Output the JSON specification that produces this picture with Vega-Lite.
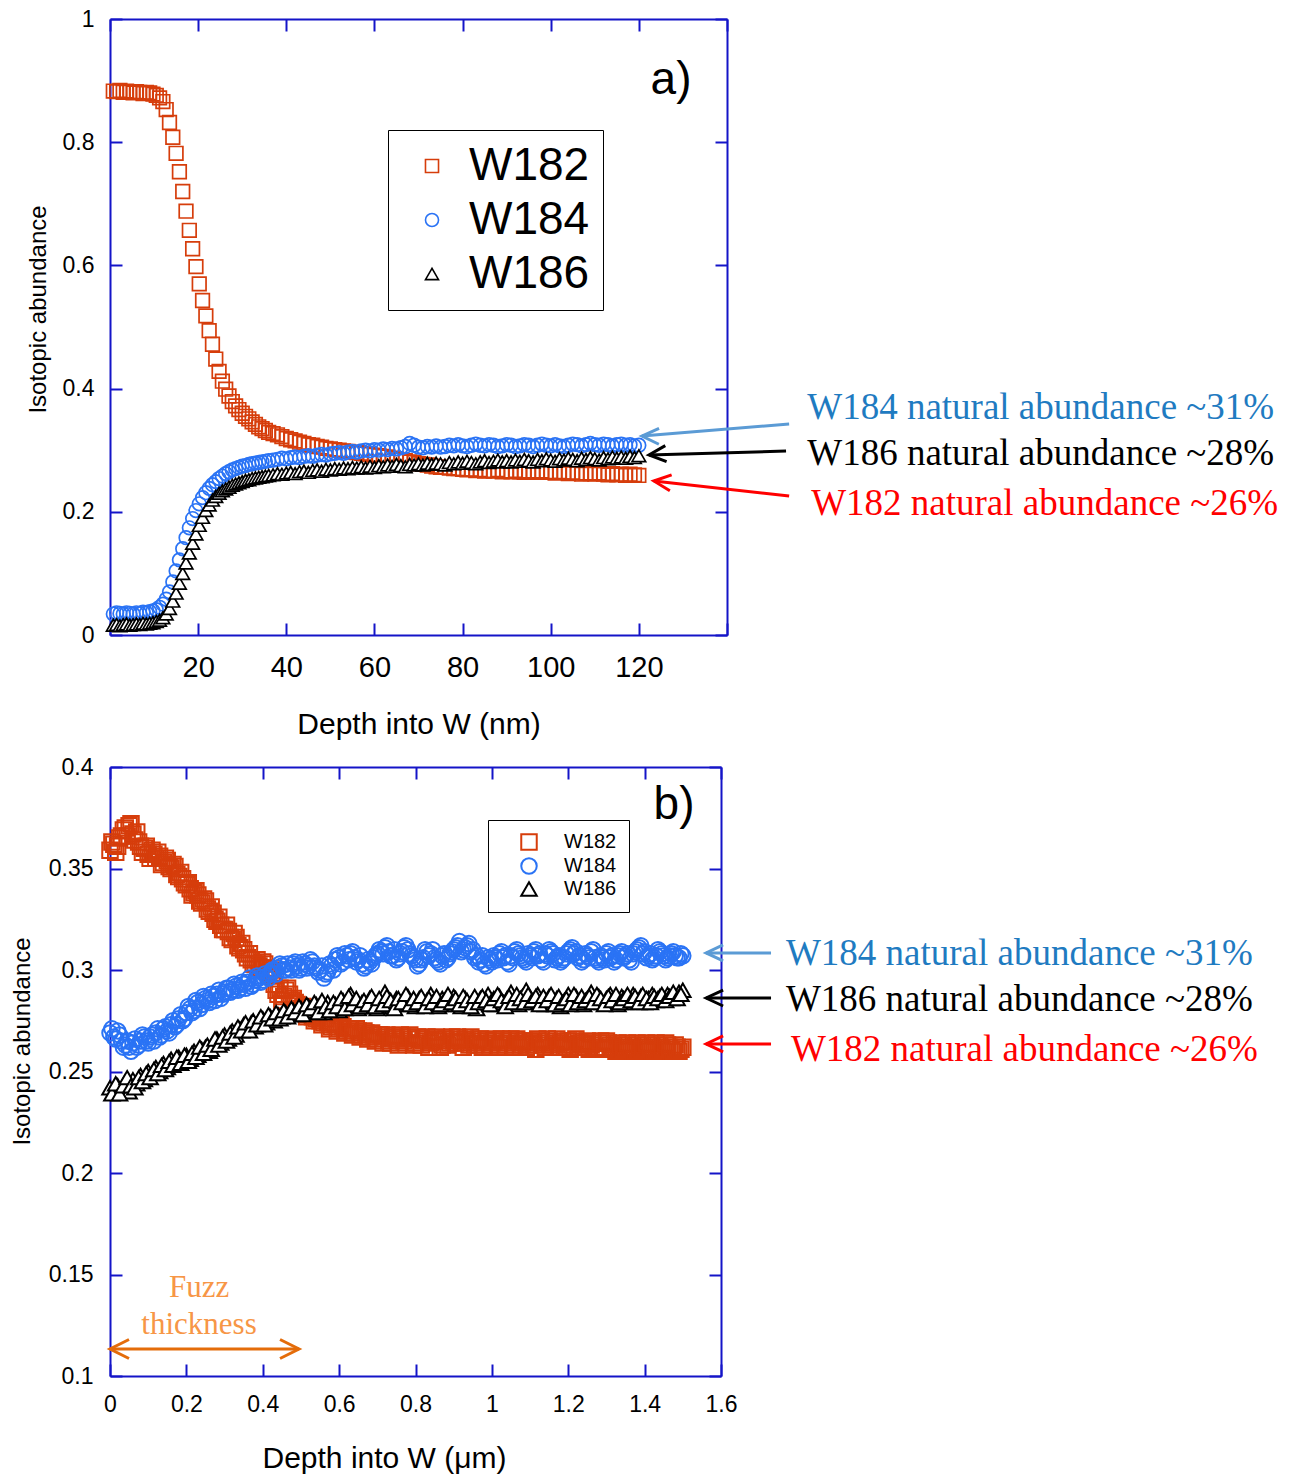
{
"$schema": "https://vega.github.io/schema/vega-lite/v6.json",
"background": "white",
"padding": {"left": 10, "top": 8, "right": 5, "bottom": 5},
"spacing": 17,
"config": {
  "view": {"stroke": null},
  "font": "Liberation Sans",
  "axis": {"domainColor": "#1414C8", "tickColor": "#1414C8", "domainWidth": 2, "tickWidth": 2, "tickSize": -12, "grid": false, "labelColor": "#000000", "titleColor": "#000000", "titleFontWeight": "normal", "labelFlush": false, "labelOverlap": false, "labelFont": "Liberation Sans", "titleFont": "Liberation Sans"}
},
"datasets": {
"a": [
{"d":0.75,"W182":0.883,"W184":0.034,"W186":0.016},
{"d":1.5,"W182":0.882,"W184":0.036,"W186":0.017},
{"d":2.25,"W182":0.884,"W184":0.035,"W186":0.015},
{"d":3,"W182":0.881,"W184":0.034,"W186":0.017},
{"d":3.75,"W182":0.883,"W184":0.036,"W186":0.018},
{"d":4.5,"W182":0.882,"W184":0.035,"W186":0.016},
{"d":5.25,"W182":0.880,"W184":0.034,"W186":0.017},
{"d":6,"W182":0.882,"W184":0.036,"W186":0.018},
{"d":6.75,"W182":0.881,"W184":0.035,"W186":0.017},
{"d":7.5,"W182":0.879,"W184":0.037,"W186":0.019},
{"d":8.25,"W182":0.881,"W184":0.036,"W186":0.018},
{"d":9,"W182":0.880,"W184":0.038,"W186":0.019},
{"d":9.75,"W182":0.878,"W184":0.039,"W186":0.020},
{"d":10.5,"W182":0.876,"W184":0.041,"W186":0.022},
{"d":11.25,"W182":0.872,"W184":0.045,"W186":0.024},
{"d":12,"W182":0.866,"W184":0.050,"W186":0.028},
{"d":12.75,"W182":0.853,"W184":0.058,"W186":0.034},
{"d":13.5,"W182":0.832,"W184":0.070,"W186":0.043},
{"d":14.25,"W182":0.808,"W184":0.086,"W186":0.055},
{"d":15,"W182":0.782,"W184":0.104,"W186":0.068},
{"d":15.75,"W182":0.752,"W184":0.122,"W186":0.084},
{"d":16.5,"W182":0.720,"W184":0.140,"W186":0.100},
{"d":17.25,"W182":0.688,"W184":0.158,"W186":0.117},
{"d":18,"W182":0.657,"W184":0.174,"W186":0.133},
{"d":18.75,"W182":0.627,"W184":0.189,"W186":0.149},
{"d":19.5,"W182":0.598,"W184":0.202,"W186":0.164},
{"d":20.25,"W182":0.570,"W184":0.213,"W186":0.178},
{"d":21,"W182":0.543,"W184":0.223,"W186":0.191},
{"d":21.75,"W182":0.518,"W184":0.231,"W186":0.202},
{"d":22.5,"W182":0.494,"W184":0.238,"W186":0.211},
{"d":23.25,"W182":0.472,"W184":0.244,"W186":0.219},
{"d":24,"W182":0.448,"W184":0.249,"W186":0.225},
{"d":24.75,"W182":0.428,"W184":0.254,"W186":0.230},
{"d":25.5,"W182":0.412,"W184":0.258,"W186":0.234},
{"d":26.25,"W182":0.399,"W184":0.262,"W186":0.237},
{"d":27,"W182":0.388,"W184":0.265,"W186":0.240},
{"d":27.75,"W182":0.379,"W184":0.268,"W186":0.243},
{"d":28.5,"W182":0.372,"W184":0.270,"W186":0.245},
{"d":29.25,"W182":0.366,"W184":0.272,"W186":0.247},
{"d":30,"W182":0.360,"W184":0.274,"W186":0.249},
{"d":30.75,"W182":0.355,"W184":0.275,"W186":0.251},
{"d":31.5,"W182":0.351,"W184":0.277,"W186":0.252},
{"d":32.25,"W182":0.346,"W184":0.278,"W186":0.254},
{"d":33,"W182":0.342,"W184":0.279,"W186":0.255},
{"d":33.75,"W182":0.338,"W184":0.280,"W186":0.256},
{"d":34.5,"W182":0.335,"W184":0.281,"W186":0.257},
{"d":35.25,"W182":0.332,"W184":0.282,"W186":0.258},
{"d":36,"W182":0.329,"W184":0.283,"W186":0.259},
{"d":37,"W182":0.327,"W184":0.284,"W186":0.260},
{"d":38,"W182":0.325,"W184":0.285,"W186":0.262},
{"d":39,"W182":0.322,"W184":0.287,"W186":0.261},
{"d":40,"W182":0.319,"W184":0.286,"W186":0.263},
{"d":41,"W182":0.317,"W184":0.288,"W186":0.264},
{"d":42,"W182":0.315,"W184":0.289,"W186":0.262},
{"d":43,"W182":0.313,"W184":0.288,"W186":0.265},
{"d":44,"W182":0.311,"W184":0.290,"W186":0.266},
{"d":45,"W182":0.309,"W184":0.291,"W186":0.264},
{"d":46,"W182":0.308,"W184":0.290,"W186":0.267},
{"d":47,"W182":0.306,"W184":0.292,"W186":0.268},
{"d":48,"W182":0.305,"W184":0.293,"W186":0.266},
{"d":49,"W182":0.303,"W184":0.292,"W186":0.269},
{"d":50,"W182":0.302,"W184":0.294,"W186":0.268},
{"d":51,"W182":0.301,"W184":0.295,"W186":0.270},
{"d":52,"W182":0.300,"W184":0.296,"W186":0.269},
{"d":53,"W182":0.299,"W184":0.295,"W186":0.271},
{"d":54,"W182":0.298,"W184":0.297,"W186":0.270},
{"d":55,"W182":0.297,"W184":0.298,"W186":0.272},
{"d":56,"W182":0.296,"W184":0.297,"W186":0.271},
{"d":57,"W182":0.295,"W184":0.299,"W186":0.273},
{"d":58,"W182":0.294,"W184":0.300,"W186":0.271},
{"d":59,"W182":0.293,"W184":0.299,"W186":0.274},
{"d":60,"W182":0.292,"W184":0.301,"W186":0.272},
{"d":61,"W182":0.291,"W184":0.300,"W186":0.275},
{"d":62,"W182":0.290,"W184":0.302,"W186":0.273},
{"d":63,"W182":0.289,"W184":0.301,"W186":0.276},
{"d":64,"W182":0.287,"W184":0.303,"W186":0.274},
{"d":65,"W182":0.286,"W184":0.302,"W186":0.277},
{"d":66,"W182":0.284,"W184":0.304,"W186":0.275},
{"d":67,"W182":0.283,"W184":0.306,"W186":0.273},
{"d":68,"W182":0.281,"W184":0.311,"W186":0.277},
{"d":69,"W182":0.280,"W184":0.308,"W186":0.276},
{"d":70,"W182":0.278,"W184":0.305,"W186":0.278},
{"d":71,"W182":0.277,"W184":0.304,"W186":0.276},
{"d":72,"W182":0.276,"W184":0.306,"W186":0.279},
{"d":73,"W182":0.274,"W184":0.305,"W186":0.277},
{"d":74,"W182":0.273,"W184":0.307,"W186":0.279},
{"d":75,"W182":0.272,"W184":0.305,"W186":0.278},
{"d":76,"W182":0.272,"W184":0.306,"W186":0.276},
{"d":77,"W182":0.271,"W184":0.308,"W186":0.280},
{"d":78,"W182":0.270,"W184":0.307,"W186":0.278},
{"d":79,"W182":0.270,"W184":0.309,"W186":0.281},
{"d":80,"W182":0.269,"W184":0.307,"W186":0.279},
{"d":81,"W182":0.268,"W184":0.306,"W186":0.282},
{"d":82,"W182":0.269,"W184":0.308,"W186":0.280},
{"d":83,"W182":0.267,"W184":0.310,"W186":0.278},
{"d":84,"W182":0.268,"W184":0.308,"W186":0.281},
{"d":85,"W182":0.266,"W184":0.307,"W186":0.283},
{"d":86,"W182":0.267,"W184":0.309,"W186":0.280},
{"d":87,"W182":0.266,"W184":0.308,"W186":0.282},
{"d":88,"W182":0.268,"W184":0.306,"W186":0.284},
{"d":89,"W182":0.265,"W184":0.307,"W186":0.281},
{"d":90,"W182":0.266,"W184":0.309,"W186":0.283},
{"d":91,"W182":0.265,"W184":0.308,"W186":0.281},
{"d":92,"W182":0.267,"W184":0.306,"W186":0.284},
{"d":93,"W182":0.265,"W184":0.307,"W186":0.282},
{"d":94,"W182":0.264,"W184":0.309,"W186":0.285},
{"d":95,"W182":0.266,"W184":0.308,"W186":0.283},
{"d":96,"W182":0.265,"W184":0.306,"W186":0.281},
{"d":97,"W182":0.264,"W184":0.308,"W186":0.285},
{"d":98,"W182":0.266,"W184":0.310,"W186":0.283},
{"d":99,"W182":0.264,"W184":0.308,"W186":0.286},
{"d":100,"W182":0.265,"W184":0.307,"W186":0.284},
{"d":101,"W182":0.263,"W184":0.309,"W186":0.282},
{"d":102,"W182":0.265,"W184":0.307,"W186":0.286},
{"d":103,"W182":0.264,"W184":0.306,"W186":0.284},
{"d":104,"W182":0.262,"W184":0.308,"W186":0.287},
{"d":105,"W182":0.264,"W184":0.310,"W186":0.285},
{"d":106,"W182":0.263,"W184":0.309,"W186":0.283},
{"d":107,"W182":0.261,"W184":0.307,"W186":0.287},
{"d":108,"W182":0.263,"W184":0.309,"W186":0.285},
{"d":109,"W182":0.262,"W184":0.311,"W186":0.288},
{"d":110,"W182":0.261,"W184":0.309,"W186":0.286},
{"d":111,"W182":0.263,"W184":0.308,"W186":0.284},
{"d":112,"W182":0.261,"W184":0.310,"W186":0.288},
{"d":113,"W182":0.260,"W184":0.309,"W186":0.286},
{"d":114,"W182":0.262,"W184":0.307,"W186":0.289},
{"d":115,"W182":0.260,"W184":0.309,"W186":0.287},
{"d":116,"W182":0.261,"W184":0.310,"W186":0.289},
{"d":117,"W182":0.259,"W184":0.308,"W186":0.287},
{"d":118,"W182":0.261,"W184":0.309,"W186":0.290},
{"d":119,"W182":0.260,"W184":0.307,"W186":0.288},
{"d":120,"W182":0.259,"W184":0.308,"W186":0.291}
],
"b": [
{"d":0.00,"W182":0.359,"W184":0.269,"W186":0.242},
{"d":0.01,"W182":0.362,"W184":0.267,"W186":0.240},
{"d":0.02,"W182":0.361,"W184":0.270,"W186":0.243},
{"d":0.03,"W182":0.366,"W184":0.265,"W186":0.241},
{"d":0.04,"W182":0.370,"W184":0.263,"W186":0.245},
{"d":0.05,"W182":0.371,"W184":0.262,"W186":0.240},
{"d":0.06,"W182":0.367,"W184":0.264,"W186":0.246},
{"d":0.07,"W182":0.368,"W184":0.262,"W186":0.244},
{"d":0.08,"W182":0.361,"W184":0.265,"W186":0.248},
{"d":0.09,"W182":0.360,"W184":0.267,"W186":0.246},
{"d":0.10,"W182":0.357,"W184":0.264,"W186":0.250},
{"d":0.11,"W182":0.359,"W184":0.268,"W186":0.249},
{"d":0.12,"W182":0.355,"W184":0.269,"W186":0.252},
{"d":0.13,"W182":0.356,"W184":0.267,"W186":0.250},
{"d":0.14,"W182":0.353,"W184":0.271,"W186":0.254},
{"d":0.15,"W182":0.354,"W184":0.270,"W186":0.252},
{"d":0.16,"W182":0.350,"W184":0.273,"W186":0.256},
{"d":0.17,"W182":0.351,"W184":0.272,"W186":0.254},
{"d":0.18,"W182":0.346,"W184":0.276,"W186":0.257},
{"d":0.19,"W182":0.345,"W184":0.275,"W186":0.255},
{"d":0.20,"W182":0.342,"W184":0.279,"W186":0.258},
{"d":0.21,"W182":0.340,"W184":0.281,"W186":0.256},
{"d":0.22,"W182":0.338,"W184":0.280,"W186":0.260},
{"d":0.23,"W182":0.337,"W184":0.284,"W186":0.258},
{"d":0.24,"W182":0.333,"W184":0.283,"W186":0.261},
{"d":0.25,"W182":0.334,"W184":0.286,"W186":0.262},
{"d":0.26,"W182":0.329,"W184":0.284,"W186":0.260},
{"d":0.27,"W182":0.328,"W184":0.287,"W186":0.264},
{"d":0.28,"W182":0.324,"W184":0.288,"W186":0.266},
{"d":0.29,"W182":0.322,"W184":0.286,"W186":0.264},
{"d":0.30,"W182":0.320,"W184":0.289,"W186":0.268},
{"d":0.31,"W182":0.319,"W184":0.291,"W186":0.266},
{"d":0.32,"W182":0.315,"W184":0.290,"W186":0.270},
{"d":0.33,"W182":0.316,"W184":0.292,"W186":0.268},
{"d":0.34,"W182":0.311,"W184":0.291,"W186":0.271},
{"d":0.35,"W182":0.310,"W184":0.293,"W186":0.273},
{"d":0.36,"W182":0.306,"W184":0.294,"W186":0.271},
{"d":0.37,"W182":0.305,"W184":0.292,"W186":0.274},
{"d":0.38,"W182":0.303,"W184":0.295,"W186":0.272},
{"d":0.39,"W182":0.302,"W184":0.296,"W186":0.275},
{"d":0.40,"W182":0.304,"W184":0.295,"W186":0.276},
{"d":0.41,"W182":0.301,"W184":0.297,"W186":0.274},
{"d":0.42,"W182":0.300,"W184":0.298,"W186":0.277},
{"d":0.43,"W182":0.293,"W184":0.300,"W186":0.275},
{"d":0.44,"W182":0.288,"W184":0.301,"W186":0.278},
{"d":0.45,"W182":0.285,"W184":0.302,"W186":0.277},
{"d":0.46,"W182":0.290,"W184":0.300,"W186":0.279},
{"d":0.47,"W182":0.288,"W184":0.301,"W186":0.278},
{"d":0.48,"W182":0.286,"W184":0.303,"W186":0.280},
{"d":0.49,"W182":0.283,"W184":0.302,"W186":0.278},
{"d":0.50,"W182":0.281,"W184":0.301,"W186":0.281},
{"d":0.51,"W182":0.279,"W184":0.303,"W186":0.279},
{"d":0.52,"W182":0.278,"W184":0.302,"W186":0.282},
{"d":0.53,"W182":0.277,"W184":0.304,"W186":0.280},
{"d":0.54,"W182":0.276,"W184":0.301,"W186":0.283},
{"d":0.55,"W182":0.275,"W184":0.300,"W186":0.281},
{"d":0.56,"W182":0.274,"W184":0.296,"W186":0.279},
{"d":0.57,"W182":0.274,"W184":0.299,"W186":0.284},
{"d":0.58,"W182":0.272,"W184":0.302,"W186":0.281},
{"d":0.59,"W182":0.273,"W184":0.305,"W186":0.283},
{"d":0.60,"W182":0.271,"W184":0.306,"W186":0.280},
{"d":0.61,"W182":0.272,"W184":0.304,"W186":0.285},
{"d":0.62,"W182":0.270,"W184":0.307,"W186":0.282},
{"d":0.63,"W182":0.271,"W184":0.308,"W186":0.288},
{"d":0.64,"W182":0.269,"W184":0.306,"W186":0.283},
{"d":0.65,"W182":0.270,"W184":0.305,"W186":0.281},
{"d":0.66,"W182":0.268,"W184":0.303,"W186":0.284},
{"d":0.67,"W182":0.269,"W184":0.302,"W186":0.282},
{"d":0.68,"W182":0.267,"W184":0.304,"W186":0.286},
{"d":0.69,"W182":0.268,"W184":0.306,"W186":0.283},
{"d":0.70,"W182":0.266,"W184":0.308,"W186":0.281},
{"d":0.71,"W182":0.268,"W184":0.309,"W186":0.285},
{"d":0.72,"W182":0.267,"W184":0.311,"W186":0.289},
{"d":0.73,"W182":0.265,"W184":0.309,"W186":0.284},
{"d":0.74,"W182":0.267,"W184":0.307,"W186":0.282},
{"d":0.75,"W182":0.266,"W184":0.305,"W186":0.286},
{"d":0.76,"W182":0.268,"W184":0.308,"W186":0.283},
{"d":0.77,"W182":0.265,"W184":0.311,"W186":0.285},
{"d":0.78,"W182":0.267,"W184":0.310,"W186":0.287},
{"d":0.79,"W182":0.266,"W184":0.307,"W186":0.284},
{"d":0.80,"W182":0.264,"W184":0.305,"W186":0.282},
{"d":0.81,"W182":0.266,"W184":0.303,"W186":0.286},
{"d":0.82,"W182":0.265,"W184":0.306,"W186":0.283},
{"d":0.83,"W182":0.267,"W184":0.309,"W186":0.285},
{"d":0.84,"W182":0.264,"W184":0.308,"W186":0.288},
{"d":0.85,"W182":0.266,"W184":0.306,"W186":0.284},
{"d":0.86,"W182":0.265,"W184":0.304,"W186":0.282},
{"d":0.87,"W182":0.263,"W184":0.307,"W186":0.286},
{"d":0.88,"W182":0.266,"W184":0.305,"W186":0.283},
{"d":0.89,"W182":0.264,"W184":0.308,"W186":0.285},
{"d":0.90,"W182":0.265,"W184":0.310,"W186":0.287},
{"d":0.91,"W182":0.267,"W184":0.312,"W186":0.284},
{"d":0.92,"W182":0.264,"W184":0.309,"W186":0.282},
{"d":0.93,"W182":0.266,"W184":0.311,"W186":0.286},
{"d":0.94,"W182":0.263,"W184":0.313,"W186":0.283},
{"d":0.95,"W182":0.265,"W184":0.310,"W186":0.285},
{"d":0.96,"W182":0.264,"W184":0.307,"W186":0.281},
{"d":0.97,"W182":0.266,"W184":0.305,"W186":0.286},
{"d":0.98,"W182":0.263,"W184":0.303,"W186":0.284},
{"d":0.99,"W182":0.265,"W184":0.306,"W186":0.288},
{"d":1.00,"W182":0.264,"W184":0.304,"W186":0.285},
{"d":1.01,"W182":0.266,"W184":0.306,"W186":0.283},
{"d":1.02,"W182":0.263,"W184":0.308,"W186":0.287},
{"d":1.03,"W182":0.265,"W184":0.306,"W186":0.284},
{"d":1.04,"W182":0.264,"W184":0.304,"W186":0.286},
{"d":1.05,"W182":0.266,"W184":0.307,"W186":0.289},
{"d":1.06,"W182":0.263,"W184":0.309,"W186":0.285},
{"d":1.07,"W182":0.265,"W184":0.308,"W186":0.283},
{"d":1.08,"W182":0.264,"W184":0.306,"W186":0.287},
{"d":1.09,"W182":0.262,"W184":0.304,"W186":0.290},
{"d":1.10,"W182":0.265,"W184":0.307,"W186":0.286},
{"d":1.11,"W182":0.263,"W184":0.309,"W186":0.284},
{"d":1.12,"W182":0.266,"W184":0.307,"W186":0.288},
{"d":1.13,"W182":0.264,"W184":0.305,"W186":0.285},
{"d":1.14,"W182":0.262,"W184":0.308,"W186":0.283},
{"d":1.15,"W182":0.265,"W184":0.310,"W186":0.287},
{"d":1.16,"W182":0.263,"W184":0.308,"W186":0.284},
{"d":1.17,"W182":0.266,"W184":0.306,"W186":0.286},
{"d":1.18,"W182":0.264,"W184":0.304,"W186":0.282},
{"d":1.19,"W182":0.262,"W184":0.306,"W186":0.285},
{"d":1.20,"W182":0.265,"W184":0.309,"W186":0.288},
{"d":1.21,"W182":0.263,"W184":0.311,"W186":0.284},
{"d":1.22,"W182":0.266,"W184":0.309,"W186":0.287},
{"d":1.23,"W182":0.264,"W184":0.307,"W186":0.285},
{"d":1.24,"W182":0.262,"W184":0.305,"W186":0.283},
{"d":1.25,"W182":0.265,"W184":0.307,"W186":0.286},
{"d":1.26,"W182":0.263,"W184":0.309,"W186":0.289},
{"d":1.27,"W182":0.261,"W184":0.306,"W186":0.285},
{"d":1.28,"W182":0.264,"W184":0.304,"W186":0.287},
{"d":1.29,"W182":0.262,"W184":0.306,"W186":0.284},
{"d":1.30,"W182":0.265,"W184":0.308,"W186":0.286},
{"d":1.31,"W182":0.263,"W184":0.306,"W186":0.288},
{"d":1.32,"W182":0.261,"W184":0.304,"W186":0.285},
{"d":1.33,"W182":0.264,"W184":0.307,"W186":0.283},
{"d":1.34,"W182":0.262,"W184":0.309,"W186":0.287},
{"d":1.35,"W182":0.260,"W184":0.307,"W186":0.284},
{"d":1.36,"W182":0.263,"W184":0.305,"W186":0.286},
{"d":1.37,"W182":0.261,"W184":0.308,"W186":0.288},
{"d":1.38,"W182":0.264,"W184":0.310,"W186":0.285},
{"d":1.39,"W182":0.262,"W184":0.312,"W186":0.287},
{"d":1.40,"W182":0.260,"W184":0.309,"W186":0.284},
{"d":1.41,"W182":0.263,"W184":0.307,"W186":0.286},
{"d":1.42,"W182":0.261,"W184":0.305,"W186":0.288},
{"d":1.43,"W182":0.264,"W184":0.307,"W186":0.285},
{"d":1.44,"W182":0.262,"W184":0.309,"W186":0.287},
{"d":1.45,"W182":0.260,"W184":0.307,"W186":0.286},
{"d":1.46,"W182":0.263,"W184":0.306,"W186":0.288},
{"d":1.47,"W182":0.261,"W184":0.308,"W186":0.286},
{"d":1.48,"W182":0.263,"W184":0.307,"W186":0.287},
{"d":1.49,"W182":0.260,"W184":0.306,"W186":0.289},
{"d":1.50,"W182":0.262,"W184":0.307,"W186":0.290},
{"d":0.005,"W182":0.363,"W184":0.271,"W186":0.239},
{"d":0.015,"W182":0.358,"W184":0.266,"W186":0.244},
{"d":0.025,"W182":0.365,"W184":0.268,"W186":0.239},
{"d":0.035,"W182":0.369,"W184":0.262,"W186":0.243},
{"d":0.045,"W182":0.366,"W184":0.265,"W186":0.247},
{"d":0.055,"W182":0.372,"W184":0.260,"W186":0.243},
{"d":0.065,"W182":0.364,"W184":0.266,"W186":0.242},
{"d":0.075,"W182":0.363,"W184":0.263,"W186":0.247},
{"d":0.085,"W182":0.358,"W184":0.268,"W186":0.245},
{"d":0.095,"W182":0.361,"W184":0.265,"W186":0.249},
{"d":0.105,"W182":0.355,"W184":0.267,"W186":0.247},
{"d":0.115,"W182":0.357,"W184":0.265,"W186":0.251},
{"d":0.125,"W182":0.358,"W184":0.271,"W186":0.249},
{"d":0.135,"W182":0.352,"W184":0.268,"W186":0.253},
{"d":0.145,"W182":0.355,"W184":0.272,"W186":0.251},
{"d":0.155,"W182":0.351,"W184":0.269,"W186":0.255},
{"d":0.165,"W182":0.352,"W184":0.275,"W186":0.253},
{"d":0.175,"W182":0.347,"W184":0.273,"W186":0.257},
{"d":0.185,"W182":0.348,"W184":0.278,"W186":0.254},
{"d":0.195,"W182":0.343,"W184":0.276,"W186":0.258},
{"d":0.205,"W182":0.343,"W184":0.282,"W186":0.255},
{"d":0.215,"W182":0.337,"W184":0.279,"W186":0.259},
{"d":0.225,"W182":0.339,"W184":0.285,"W186":0.257},
{"d":0.235,"W182":0.334,"W184":0.281,"W186":0.262},
{"d":0.245,"W182":0.335,"W184":0.287,"W186":0.259},
{"d":0.255,"W182":0.330,"W184":0.285,"W186":0.263},
{"d":0.265,"W182":0.331,"W184":0.288,"W186":0.261},
{"d":0.275,"W182":0.325,"W184":0.285,"W186":0.266},
{"d":0.285,"W182":0.326,"W184":0.290,"W186":0.263},
{"d":0.295,"W182":0.320,"W184":0.288,"W186":0.267},
{"d":0.305,"W182":0.322,"W184":0.291,"W186":0.265},
{"d":0.315,"W182":0.316,"W184":0.289,"W186":0.269},
{"d":0.325,"W182":0.318,"W184":0.293,"W186":0.267},
{"d":0.335,"W182":0.312,"W184":0.290,"W186":0.272},
{"d":0.345,"W182":0.313,"W184":0.294,"W186":0.270},
{"d":0.355,"W182":0.308,"W184":0.291,"W186":0.274},
{"d":0.365,"W182":0.308,"W184":0.296,"W186":0.270},
{"d":0.375,"W182":0.303,"W184":0.293,"W186":0.275},
{"d":0.385,"W182":0.305,"W184":0.297,"W186":0.273},
{"d":0.395,"W182":0.301,"W184":0.294,"W186":0.277},
{"d":0.405,"W182":0.303,"W184":0.298,"W186":0.273},
{"d":0.415,"W182":0.299,"W184":0.296,"W186":0.278},
{"d":0.425,"W182":0.297,"W184":0.300,"W186":0.276},
{"d":0.435,"W182":0.290,"W184":0.298,"W186":0.279},
{"d":0.445,"W182":0.291,"W184":0.303,"W186":0.276},
{"d":0.455,"W182":0.287,"W184":0.300,"W186":0.280},
{"d":0.465,"W182":0.291,"W184":0.303,"W186":0.277},
{"d":0.475,"W182":0.285,"W184":0.300,"W186":0.281},
{"d":0.485,"W182":0.284,"W184":0.304,"W186":0.279},
{"d":0.495,"W182":0.280,"W184":0.300,"W186":0.282},
{"d":0.505,"W182":0.282,"W184":0.304,"W186":0.278},
{"d":0.515,"W182":0.277,"W184":0.301,"W186":0.283},
{"d":0.525,"W182":0.280,"W184":0.305,"W186":0.281},
{"d":0.535,"W182":0.275,"W184":0.302,"W186":0.284},
{"d":0.545,"W182":0.277,"W184":0.299,"W186":0.279},
{"d":0.555,"W182":0.273,"W184":0.302,"W186":0.285},
{"d":0.565,"W182":0.276,"W184":0.298,"W186":0.282},
{"d":0.575,"W182":0.271,"W184":0.303,"W186":0.280},
{"d":0.585,"W182":0.274,"W184":0.300,"W186":0.284},
{"d":0.595,"W182":0.270,"W184":0.307,"W186":0.282},
{"d":0.605,"W182":0.273,"W184":0.303,"W186":0.286},
{"d":0.615,"W182":0.269,"W184":0.308,"W186":0.281},
{"d":0.625,"W182":0.271,"W184":0.305,"W186":0.287},
{"d":0.635,"W182":0.268,"W184":0.309,"W186":0.283},
{"d":0.645,"W182":0.271,"W184":0.304,"W186":0.286},
{"d":0.655,"W182":0.267,"W184":0.307,"W186":0.282},
{"d":0.665,"W182":0.270,"W184":0.301,"W186":0.285},
{"d":0.675,"W182":0.266,"W184":0.305,"W186":0.283},
{"d":0.685,"W182":0.269,"W184":0.303,"W186":0.287},
{"d":0.695,"W182":0.265,"W184":0.307,"W186":0.282},
{"d":0.705,"W182":0.268,"W184":0.310,"W186":0.286},
{"d":0.715,"W182":0.264,"W184":0.308,"W186":0.283},
{"d":0.725,"W182":0.268,"W184":0.312,"W186":0.287},
{"d":0.735,"W182":0.264,"W184":0.307,"W186":0.285},
{"d":0.745,"W182":0.266,"W184":0.310,"W186":0.281},
{"d":0.755,"W182":0.263,"W184":0.306,"W186":0.286},
{"d":0.765,"W182":0.267,"W184":0.309,"W186":0.284},
{"d":0.775,"W182":0.264,"W184":0.312,"W186":0.288},
{"d":0.785,"W182":0.268,"W184":0.308,"W186":0.283},
{"d":0.795,"W182":0.263,"W184":0.306,"W186":0.286},
{"d":0.805,"W182":0.267,"W184":0.302,"W186":0.284},
{"d":0.815,"W182":0.263,"W184":0.305,"W186":0.287},
{"d":0.825,"W182":0.266,"W184":0.310,"W186":0.282},
{"d":0.835,"W182":0.262,"W184":0.307,"W186":0.286},
{"d":0.845,"W182":0.265,"W184":0.310,"W186":0.284},
{"d":0.855,"W182":0.267,"W184":0.305,"W186":0.287},
{"d":0.865,"W182":0.262,"W184":0.303,"W186":0.283},
{"d":0.875,"W182":0.266,"W184":0.308,"W186":0.285},
{"d":0.885,"W182":0.263,"W184":0.306,"W186":0.288},
{"d":0.895,"W182":0.267,"W184":0.309,"W186":0.284},
{"d":0.905,"W182":0.264,"W184":0.311,"W186":0.286},
{"d":0.915,"W182":0.266,"W184":0.314,"W186":0.283},
{"d":0.925,"W182":0.262,"W184":0.310,"W186":0.287},
{"d":0.935,"W182":0.265,"W184":0.312,"W186":0.285},
{"d":0.945,"W182":0.267,"W184":0.309,"W186":0.282},
{"d":0.955,"W182":0.263,"W184":0.306,"W186":0.287},
{"d":0.965,"W182":0.266,"W184":0.304,"W186":0.284},
{"d":0.975,"W182":0.262,"W184":0.307,"W186":0.287},
{"d":0.985,"W182":0.265,"W184":0.302,"W186":0.285},
{"d":0.995,"W182":0.263,"W184":0.305,"W186":0.283},
{"d":1.005,"W182":0.265,"W184":0.307,"W186":0.286},
{"d":1.015,"W182":0.262,"W184":0.305,"W186":0.288},
{"d":1.025,"W182":0.266,"W184":0.309,"W186":0.285},
{"d":1.035,"W182":0.263,"W184":0.307,"W186":0.282},
{"d":1.045,"W182":0.265,"W184":0.303,"W186":0.287},
{"d":1.055,"W182":0.262,"W184":0.306,"W186":0.284},
{"d":1.065,"W182":0.266,"W184":0.310,"W186":0.288},
{"d":1.075,"W182":0.263,"W184":0.307,"W186":0.286},
{"d":1.085,"W182":0.265,"W184":0.305,"W186":0.284},
{"d":1.095,"W182":0.263,"W184":0.308,"W186":0.288},
{"d":1.105,"W182":0.264,"W184":0.306,"W186":0.285},
{"d":1.115,"W182":0.261,"W184":0.310,"W186":0.287},
{"d":1.125,"W182":0.265,"W184":0.308,"W186":0.283},
{"d":1.135,"W182":0.263,"W184":0.304,"W186":0.287},
{"d":1.145,"W182":0.266,"W184":0.307,"W186":0.285},
{"d":1.155,"W182":0.262,"W184":0.309,"W186":0.288},
{"d":1.165,"W182":0.264,"W184":0.305,"W186":0.283},
{"d":1.175,"W182":0.262,"W184":0.307,"W186":0.287},
{"d":1.185,"W182":0.265,"W184":0.305,"W186":0.284},
{"d":1.195,"W182":0.263,"W184":0.308,"W186":0.286},
{"d":1.205,"W182":0.261,"W184":0.310,"W186":0.283},
{"d":1.215,"W182":0.265,"W184":0.308,"W186":0.288},
{"d":1.225,"W182":0.262,"W184":0.306,"W186":0.284},
{"d":1.235,"W182":0.264,"W184":0.304,"W186":0.287},
{"d":1.245,"W182":0.263,"W184":0.308,"W186":0.285},
{"d":1.255,"W182":0.261,"W184":0.306,"W186":0.287},
{"d":1.265,"W182":0.264,"W184":0.310,"W186":0.284},
{"d":1.275,"W182":0.262,"W184":0.305,"W186":0.288},
{"d":1.285,"W182":0.265,"W184":0.307,"W186":0.286},
{"d":1.295,"W182":0.261,"W184":0.305,"W186":0.283},
{"d":1.305,"W182":0.264,"W184":0.309,"W186":0.287},
{"d":1.315,"W182":0.262,"W184":0.307,"W186":0.285},
{"d":1.325,"W182":0.260,"W184":0.305,"W186":0.288},
{"d":1.335,"W182":0.263,"W184":0.308,"W186":0.284},
{"d":1.345,"W182":0.261,"W184":0.306,"W186":0.286},
{"d":1.355,"W182":0.264,"W184":0.308,"W186":0.288},
{"d":1.365,"W182":0.262,"W184":0.304,"W186":0.285},
{"d":1.375,"W182":0.260,"W184":0.309,"W186":0.287},
{"d":1.385,"W182":0.263,"W184":0.311,"W186":0.284},
{"d":1.395,"W182":0.261,"W184":0.308,"W186":0.288},
{"d":1.405,"W182":0.264,"W184":0.306,"W186":0.286},
{"d":1.415,"W182":0.262,"W184":0.308,"W186":0.284},
{"d":1.425,"W182":0.260,"W184":0.306,"W186":0.287},
{"d":1.435,"W182":0.263,"W184":0.310,"W186":0.286},
{"d":1.445,"W182":0.261,"W184":0.308,"W186":0.288},
{"d":1.455,"W182":0.264,"W184":0.305,"W186":0.285},
{"d":1.465,"W182":0.262,"W184":0.307,"W186":0.287},
{"d":1.475,"W182":0.260,"W184":0.309,"W186":0.289},
{"d":1.485,"W182":0.262,"W184":0.306,"W186":0.286},
{"d":1.495,"W182":0.261,"W184":0.308,"W186":0.288}
],
"arrA": [
{"iso":"W184","x":154.1,"y":0.3425,"x2":120.7,"y2":0.323},
{"iso":"W186","x":153.4,"y":0.2987,"x2":122.3,"y2":0.2922},
{"iso":"W182","x":154.1,"y":0.2256,"x2":123.4,"y2":0.25}
],
"txtA": [
{"iso":"W184","x":158.2,"y":0.3685,"t":"W184 natural abundance ~31%"},
{"iso":"W186","x":158.2,"y":0.2938,"t":"W186 natural abundance ~28%"},
{"iso":"W182","x":159.1,"y":0.2127,"t":"W182 natural abundance ~26%"}
],
"arrB": [
{"iso":"W184","x":1.731,"y":0.3084,"x2":1.561,"y2":0.3084},
{"iso":"W186","x":1.731,"y":0.2862,"x2":1.561,"y2":0.2862},
{"iso":"W182","x":1.731,"y":0.2636,"x2":1.561,"y2":0.2636}
],
"txtB": [
{"iso":"W184","x":1.770,"y":0.3079,"t":"W184 natural abundance ~31%"},
{"iso":"W186","x":1.770,"y":0.2852,"t":"W186 natural abundance ~28%"},
{"iso":"W182","x":1.783,"y":0.2606,"t":"W182 natural abundance ~26%"}
],
"fuzz": [{"x":0,"x2":0.495,"y":0.1133}],
"fuzzEnds": [{"x":0,"y":0.1133,"end":"left"},{"x":0.495,"y":0.1133,"end":"right"}],
"fuzzTxt": [{"x":0.2331,"y":0.1433,"t":"Fuzz"},{"x":0.2331,"y":0.1251,"t":"thickness"}],
"labA": [{"x":127.3,"y":0.901,"t":"a)"}],
"labB": [{"x":1.477,"y":0.3813,"t":"b)"}]
},
"vconcat": [
{
  "width": 617, "height": 616,
  "resolve": {"axis": {"x": "independent", "y": "independent"}, "scale": {"color": "independent", "shape": "independent"}, "legend": {"color": "independent", "shape": "independent"}},
  "layer": [
    {
      "data": {"name": "a"},
      "transform": [{"fold": ["W182", "W184", "W186"], "as": ["iso", "v"]}],
      "mark": {"type": "point", "filled": false, "size": 185, "strokeWidth": 1.7, "opacity": 1},
      "encoding": {
        "x": {"field": "d", "type": "quantitative", "scale": {"domain": [0, 140], "nice": false, "zero": false},
              "axis": {"orient": "bottom", "values": [0, 20, 40, 60, 80, 100, 120, 140], "labelExpr": "datum.value == 0 || datum.value == 140 ? '' : datum.label", "title": "Depth into W (nm)", "labelFontSize": 29, "titleFontSize": 30, "labelPadding": 30, "titlePadding": 27}},
        "y": {"field": "v", "type": "quantitative", "scale": {"domain": [0, 1], "nice": false, "zero": false},
              "axis": {"orient": "left", "values": [0, 0.2, 0.4, 0.6, 0.8, 1], "format": "~g", "title": "Isotopic abundance", "labelFontSize": 23, "titleFontSize": 24, "labelPadding": 28, "titlePadding": 12, "titleY": 290}},
        "color": {"field": "iso", "type": "nominal", "scale": {"domain": ["W182", "W184", "W186"], "range": ["#D63D0B", "#2A73F5", "#000000"]},
                  "legend": {"orient": "none", "legendX": 278, "legendY": 111, "title": null, "padding": 13, "rowPadding": 8, "symbolSize": 170, "symbolStrokeWidth": 1.6, "symbolOffset": 8, "labelOffset": 14, "labelFontSize": 46, "labelFont": "Liberation Sans", "strokeColor": "#000000", "fillColor": "#ffffff", "symbolFillColor": "transparent",
                             "encode": {"labels": {"update": {"fill": {"signal": "datum.value == 'W182' ? '#D63D0B' : datum.value == 'W184' ? '#2A73F5' : '#000000'"}}},
                                        "legend": {"update": {"strokeWidth": {"value": 1.6}}}}}},
        "shape": {"field": "iso", "type": "nominal", "scale": {"domain": ["W182", "W184", "W186"], "range": ["square", "circle", "triangle-up"]},
                  "legend": {"orient": "none", "legendX": 278, "legendY": 111, "title": null, "padding": 13, "rowPadding": 8, "symbolSize": 170, "symbolStrokeWidth": 1.6, "symbolOffset": 8, "labelOffset": 14, "labelFontSize": 46, "labelFont": "Liberation Sans", "strokeColor": "#000000", "fillColor": "#ffffff", "symbolFillColor": "transparent",
                             "encode": {"labels": {"update": {"fill": {"signal": "datum.value == 'W182' ? '#D63D0B' : datum.value == 'W184' ? '#2A73F5' : '#000000'"}}},
                                        "legend": {"update": {"strokeWidth": {"value": 1.6}}}}}},
        "fill": {"condition": {"test": "datum.iso == 'W186'", "value": "#ffffff"}, "value": "transparent"},
        "order": {"field": "iso", "type": "ordinal"}
      }
    },
    {
      "data": {"name": "txtA"},
      "mark": {"type": "point", "opacity": 0},
      "encoding": {
        "x": {"field": "x", "type": "quantitative", "scale": {"domain": [0, 140], "nice": false, "zero": false},
              "axis": {"orient": "top", "values": [0, 20, 40, 60, 80, 100, 120, 140], "labels": false, "title": null}},
        "y": {"field": "y", "type": "quantitative", "scale": {"domain": [0, 1], "nice": false, "zero": false},
              "axis": {"orient": "right", "values": [0, 0.2, 0.4, 0.6, 0.8, 1], "labels": false, "title": null}}
      }
    },
    {
      "data": {"name": "arrA"},
      "mark": {"type": "rule", "strokeWidth": 3},
      "encoding": {
        "x": {"field": "x", "type": "quantitative", "scale": {"domain": [0, 140], "nice": false, "zero": false}, "axis": null},
        "y": {"field": "y", "type": "quantitative", "scale": {"domain": [0, 1], "nice": false, "zero": false}, "axis": null},
        "x2": {"field": "x2"},
        "y2": {"field": "y2"},
        "color": {"field": "iso", "type": "nominal", "scale": {"domain": ["W182", "W184", "W186"], "range": ["#FF0000", "#5B9BD5", "#000000"]}, "legend": null}
      }
    },
    {
      "data": {"name": "arrA"},
      "mark": {"type": "point", "filled": false, "shape": "M1,-0.47L0,0L1,0.47", "size": 1156, "strokeWidth": 3, "opacity": 1},
      "encoding": {
        "x": {"field": "x2", "type": "quantitative", "scale": {"domain": [0, 140], "nice": false, "zero": false}, "axis": null},
        "y": {"field": "y2", "type": "quantitative", "scale": {"domain": [0, 1], "nice": false, "zero": false}, "axis": null},
        "angle": {"field": "iso", "type": "nominal", "scale": {"domain": ["W182", "W184", "W186"], "range": [6.3, -4.7, -1.7]}, "legend": null},
        "color": {"field": "iso", "type": "nominal", "scale": {"domain": ["W182", "W184", "W186"], "range": ["#FF0000", "#5B9BD5", "#000000"]}, "legend": null}
      }
    },
    {
      "data": {"name": "txtA"},
      "mark": {"type": "text", "align": "left", "baseline": "middle", "font": "Liberation Serif", "fontSize": 37},
      "encoding": {
        "x": {"field": "x", "type": "quantitative", "scale": {"domain": [0, 140], "nice": false, "zero": false}, "axis": null},
        "y": {"field": "y", "type": "quantitative", "scale": {"domain": [0, 1], "nice": false, "zero": false}, "axis": null},
        "text": {"field": "t"},
        "color": {"field": "iso", "type": "nominal", "scale": {"domain": ["W182", "W184", "W186"], "range": ["#FF0000", "#1F7BC1", "#000000"]}, "legend": null}
      }
    },
    {
      "data": {"name": "labA"},
      "mark": {"type": "text", "align": "center", "baseline": "middle", "font": "Liberation Sans", "fontSize": 46, "color": "#000000"},
      "encoding": {
        "x": {"field": "x", "type": "quantitative", "scale": {"domain": [0, 140], "nice": false, "zero": false}, "axis": null},
        "y": {"field": "y", "type": "quantitative", "scale": {"domain": [0, 1], "nice": false, "zero": false}, "axis": null},
        "text": {"field": "t"}
      }
    }
  ]
},
{
  "width": 611, "height": 609,
  "resolve": {"axis": {"x": "independent", "y": "independent"}, "scale": {"color": "independent", "shape": "independent", "angle": "independent"}, "legend": {"color": "independent", "shape": "independent"}},
  "layer": [
    {
      "data": {"name": "b"},
      "transform": [{"fold": ["W182", "W184", "W186"], "as": ["iso", "v"]}],
      "mark": {"type": "point", "filled": false, "size": 240, "strokeWidth": 2, "opacity": 1},
      "encoding": {
        "x": {"field": "d", "type": "quantitative", "scale": {"domain": [0, 1.6], "nice": false, "zero": false},
              "axis": {"orient": "bottom", "values": [0, 0.2, 0.4, 0.6, 0.8, 1, 1.2, 1.4, 1.6], "format": "~g", "title": "Depth into W (μm)", "labelFontSize": 23, "titleFontSize": 30, "labelPadding": 29, "titlePadding": 27, "titleX": 274}},
        "y": {"field": "v", "type": "quantitative", "scale": {"domain": [0.1, 0.4], "nice": false, "zero": false},
              "axis": {"orient": "left", "values": [0.1, 0.15, 0.2, 0.25, 0.3, 0.35, 0.4], "format": "~g", "title": "Isotopic abundance", "labelFontSize": 23, "titleFontSize": 24, "labelPadding": 29, "titlePadding": 14, "titleY": 274}},
        "color": {"field": "iso", "type": "nominal", "scale": {"domain": ["W182", "W184", "W186"], "range": ["#D63D0B", "#2A73F5", "#000000"]},
                  "legend": {"orient": "none", "legendX": 378, "legendY": 53, "title": null, "padding": 12, "rowPadding": 0, "symbolSize": 240, "symbolStrokeWidth": 2, "symbolOffset": 19, "labelOffset": 25, "labelFontSize": 20, "labelFont": "Liberation Sans", "strokeColor": "#000000", "fillColor": "#ffffff", "symbolFillColor": "transparent",
                             "encode": {"labels": {"update": {"fill": {"signal": "datum.value == 'W182' ? '#D63D0B' : datum.value == 'W184' ? '#2A73F5' : '#000000'"}}},
                                        "legend": {"update": {"strokeWidth": {"value": 1.6}}}}}},
        "shape": {"field": "iso", "type": "nominal", "scale": {"domain": ["W182", "W184", "W186"], "range": ["square", "circle", "triangle-up"]},
                  "legend": {"orient": "none", "legendX": 378, "legendY": 53, "title": null, "padding": 12, "rowPadding": 0, "symbolSize": 240, "symbolStrokeWidth": 2, "symbolOffset": 19, "labelOffset": 25, "labelFontSize": 20, "labelFont": "Liberation Sans", "strokeColor": "#000000", "fillColor": "#ffffff", "symbolFillColor": "transparent",
                             "encode": {"labels": {"update": {"fill": {"signal": "datum.value == 'W182' ? '#D63D0B' : datum.value == 'W184' ? '#2A73F5' : '#000000'"}}},
                                        "legend": {"update": {"strokeWidth": {"value": 1.6}}}}}},
        "fill": {"condition": {"test": "datum.iso == 'W186'", "value": "#ffffff"}, "value": "transparent"},
        "order": {"field": "iso", "type": "ordinal"}
      }
    },
    {
      "data": {"name": "txtB"},
      "mark": {"type": "point", "opacity": 0},
      "encoding": {
        "x": {"field": "x", "type": "quantitative", "scale": {"domain": [0, 1.6], "nice": false, "zero": false},
              "axis": {"orient": "top", "values": [0, 0.2, 0.4, 0.6, 0.8, 1, 1.2, 1.4, 1.6], "labels": false, "title": null}},
        "y": {"field": "y", "type": "quantitative", "scale": {"domain": [0.1, 0.4], "nice": false, "zero": false},
              "axis": {"orient": "right", "values": [0.1, 0.15, 0.2, 0.25, 0.3, 0.35, 0.4], "labels": false, "title": null}}
      }
    },
    {
      "data": {"name": "arrB"},
      "mark": {"type": "rule", "strokeWidth": 3},
      "encoding": {
        "x": {"field": "x", "type": "quantitative", "scale": {"domain": [0, 1.6], "nice": false, "zero": false}, "axis": null},
        "y": {"field": "y", "type": "quantitative", "scale": {"domain": [0.1, 0.4], "nice": false, "zero": false}, "axis": null},
        "x2": {"field": "x2"},
        "y2": {"field": "y2"},
        "color": {"field": "iso", "type": "nominal", "scale": {"domain": ["W182", "W184", "W186"], "range": ["#FF0000", "#5B9BD5", "#000000"]}, "legend": null}
      }
    },
    {
      "data": {"name": "arrB"},
      "mark": {"type": "point", "filled": false, "shape": "M1,-0.47L0,0L1,0.47", "size": 1156, "strokeWidth": 3, "opacity": 1},
      "encoding": {
        "x": {"field": "x2", "type": "quantitative", "scale": {"domain": [0, 1.6], "nice": false, "zero": false}, "axis": null},
        "y": {"field": "y2", "type": "quantitative", "scale": {"domain": [0.1, 0.4], "nice": false, "zero": false}, "axis": null},
        "color": {"field": "iso", "type": "nominal", "scale": {"domain": ["W182", "W184", "W186"], "range": ["#FF0000", "#5B9BD5", "#000000"]}, "legend": null}
      }
    },
    {
      "data": {"name": "txtB"},
      "mark": {"type": "text", "align": "left", "baseline": "middle", "font": "Liberation Serif", "fontSize": 37},
      "encoding": {
        "x": {"field": "x", "type": "quantitative", "scale": {"domain": [0, 1.6], "nice": false, "zero": false}, "axis": null},
        "y": {"field": "y", "type": "quantitative", "scale": {"domain": [0.1, 0.4], "nice": false, "zero": false}, "axis": null},
        "text": {"field": "t"},
        "color": {"field": "iso", "type": "nominal", "scale": {"domain": ["W182", "W184", "W186"], "range": ["#FF0000", "#1F7BC1", "#000000"]}, "legend": null}
      }
    },
    {
      "data": {"name": "fuzz"},
      "mark": {"type": "rule", "strokeWidth": 3, "color": "#E46C0A"},
      "encoding": {
        "x": {"field": "x", "type": "quantitative", "scale": {"domain": [0, 1.6], "nice": false, "zero": false}, "axis": null},
        "y": {"field": "y", "type": "quantitative", "scale": {"domain": [0.1, 0.4], "nice": false, "zero": false}, "axis": null},
        "x2": {"field": "x2"}
      }
    },
    {
      "data": {"name": "fuzzEnds"},
      "mark": {"type": "point", "filled": false, "shape": "M1,-0.5L0,0L1,0.5", "size": 1444, "strokeWidth": 3, "opacity": 1, "color": "#E46C0A"},
      "encoding": {
        "x": {"field": "x", "type": "quantitative", "scale": {"domain": [0, 1.6], "nice": false, "zero": false}, "axis": null},
        "y": {"field": "y", "type": "quantitative", "scale": {"domain": [0.1, 0.4], "nice": false, "zero": false}, "axis": null},
        "angle": {"field": "end", "type": "nominal", "scale": {"domain": ["left", "right"], "range": [0, 180]}, "legend": null}
      }
    },
    {
      "data": {"name": "fuzzTxt"},
      "mark": {"type": "text", "align": "center", "baseline": "middle", "font": "Liberation Serif", "fontSize": 31, "color": "#F79646"},
      "encoding": {
        "x": {"field": "x", "type": "quantitative", "scale": {"domain": [0, 1.6], "nice": false, "zero": false}, "axis": null},
        "y": {"field": "y", "type": "quantitative", "scale": {"domain": [0.1, 0.4], "nice": false, "zero": false}, "axis": null},
        "text": {"field": "t"}
      }
    },
    {
      "data": {"name": "labB"},
      "mark": {"type": "text", "align": "center", "baseline": "middle", "font": "Liberation Sans", "fontSize": 46, "color": "#000000"},
      "encoding": {
        "x": {"field": "x", "type": "quantitative", "scale": {"domain": [0, 1.6], "nice": false, "zero": false}, "axis": null},
        "y": {"field": "y", "type": "quantitative", "scale": {"domain": [0.1, 0.4], "nice": false, "zero": false}, "axis": null},
        "text": {"field": "t"}
      }
    }
  ]
}
],
"resolve": {"scale": {"x": "independent", "y": "independent", "color": "independent", "shape": "independent", "angle": "independent"}, "legend": {"color": "independent", "shape": "independent"}}
}
